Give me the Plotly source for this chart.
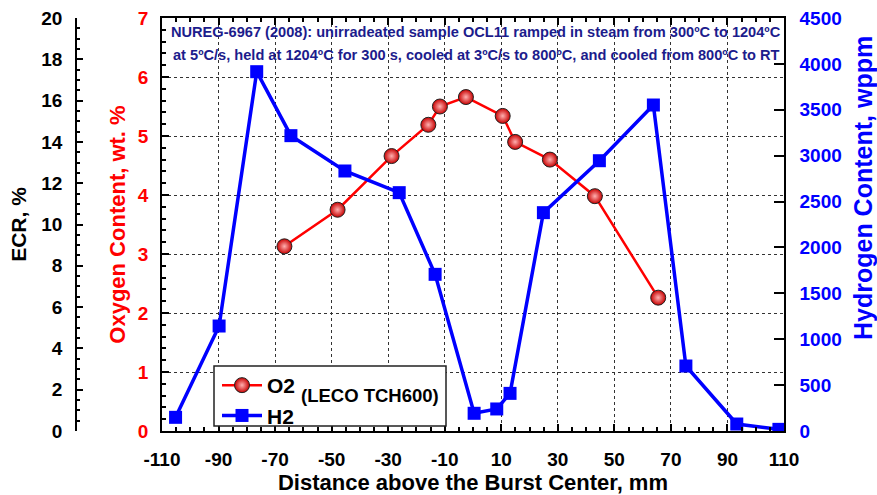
import plotly.graph_objects as go

# ---- data ----
o2_x = [-66.7, -47.9, -28.8, -15.8, -11.7, -2.5, 10.5, 14.9, 27.2, 43.1, 65.5]
o2_y = [3.13, 3.75, 4.66, 5.19, 5.50, 5.66, 5.34, 4.90, 4.60, 3.98, 2.26]

h2_x = [-105.2, -89.8, -76.5, -64.4, -45.3, -26.1, -13.4, 0.4, 8.4, 13.1, 24.9, 44.7, 63.8, 75.3, 93.3, 108.2]
h2_y = [149, 1144, 3915, 3218, 2833, 2597, 1707, 193, 240, 410, 2379, 2945, 3552, 708, 76, 18]

x_ticks = [-110, -90, -70, -50, -30, -10, 10, 30, 50, 70, 90, 110]
title_line1 = "NUREG-6967 (2008): unirradeated sample OCL11 ramped in steam from 300ºC to 1204ºC"
title_line2 = "at 5ºC/s, held at 1204ºC for 300 s, cooled at 3ºC/s to 800ºC, and cooled from 800ºC to RT"

W, H = 877, 495
L, R, T, B = 162, 784, 18, 431
FONT = "Arial, Liberation Sans, sans-serif"
RED = "#ff0000"
BLUE = "#0000ff"
NAVY = "#1c1c8c"


def px(xp):
    return xp / W


def py(yp):
    return (B - yp) / (B - T)


fig = go.Figure()

fig.add_trace(go.Scatter(
    x=o2_x, y=o2_y, name="O2", mode="lines+markers",
    line=dict(color=RED, width=2.5),
    marker=dict(symbol="circle", size=15, color="#c80000",
                gradient=dict(type="radial", color="#ffb0b0"),
                line=dict(color="#222222", width=1)),
    yaxis="y"))

fig.add_trace(go.Scatter(
    x=h2_x, y=h2_y, name="H2", mode="lines+markers",
    line=dict(color=BLUE, width=3.5),
    marker=dict(symbol="square", size=13, color=BLUE),
    yaxis="y2"))

# empty trace so the ECR axis is drawn
fig.add_trace(go.Scatter(x=[None], y=[None], yaxis="y3", showlegend=False))

tick_font_black = dict(family=FONT, size=19, color="black", weight="bold")

fig.update_layout(
    width=W, height=H,
    margin=dict(l=0, r=0, t=T, b=H - B, autoexpand=False),
    plot_bgcolor="white", paper_bgcolor="white",
    font=dict(family=FONT),
    showlegend=True,
    xaxis=dict(
        domain=[px(L), px(R)], range=[-110, 110],
        tickmode="array", tickvals=x_ticks, ticktext=[str(v) for v in x_ticks],
        ticks="inside", ticklen=7, tickwidth=1.5, tickcolor="black",
        minor=dict(dtick=5, tick0=-110, ticks="inside", ticklen=4, tickcolor="black", showgrid=False),
        showline=True, linecolor="black", linewidth=1.5, mirror="ticks",
        showgrid=True, gridcolor="#333333", gridwidth=1, griddash="3px,3px",
        zeroline=False,
        tickfont=tick_font_black, ticklabelstandoff=10,
        title=dict(text="Distance above the Burst Center, mm", standoff=6,
                   font=dict(family=FONT, size=22, color="black", weight="bold")),
    ),
    yaxis=dict(
        domain=[0, 1], range=[0, 7], dtick=1, tick0=0,
        ticks="inside", ticklen=7, tickwidth=1.5, tickcolor="black",
        minor=dict(dtick=0.2, ticks="inside", ticklen=4, tickcolor="black", showgrid=False),
        showline=True, linecolor="black", linewidth=1.5, mirror=True,
        showgrid=True, gridcolor="#333333", gridwidth=1, griddash="3px,3px",
        zeroline=False,
        tickfont=dict(family=FONT, size=19, color=RED, weight="bold"), ticklabelstandoff=8,
        title=dict(text="Oxygen Content, wt. %", standoff=6,
                   font=dict(family=FONT, size=22, color=RED, weight="bold")),
    ),
    yaxis2=dict(
        overlaying="y", side="right", anchor="x", range=[0, 4500], dtick=500, tick0=0,
        ticks="inside", ticklen=10, tickwidth=1.5, tickcolor="black",
        showline=True, linecolor="black", linewidth=1.5,
        showgrid=False, zeroline=False,
        tickfont=dict(family=FONT, size=19, color=BLUE, weight="bold"), ticklabelstandoff=10,
    ),
    yaxis3=dict(
        overlaying="y", side="left", anchor="free", position=px(76),
        range=[0, 20], dtick=2, tick0=0,
        ticks="inside", ticklen=6, tickwidth=1.5, tickcolor="black",
        minor=dict(dtick=0.5, ticks="inside", ticklen=3, tickcolor="black", showgrid=False),
        showline=True, linecolor="black", linewidth=1.5,
        showgrid=False, zeroline=False,
        tickfont=tick_font_black, ticklabelstandoff=9,
        title=dict(text="ECR, %", standoff=8,
                   font=dict(family=FONT, size=21, color="black", weight="bold")),
    ),
    legend=dict(
        x=px(217), y=py(365), xanchor="left", yanchor="top",
        bgcolor="rgba(0,0,0,0)", borderwidth=0,
        font=dict(family=FONT, size=21, color="black", weight="bold"),
        itemwidth=40, tracegroupgap=0,
    ),
    shapes=[dict(type="rect", xref="paper", yref="paper",
                 x0=px(214), x1=px(446), y0=py(426), y1=py(366),
                 fillcolor="white", line=dict(color="#222222", width=1.5), layer="above")],
    annotations=[
        dict(text=title_line1, xref="paper", yref="paper", x=px(169), y=py(32),
             xanchor="left", yanchor="middle", showarrow=False,
             font=dict(family=FONT, size=14.6, color=NAVY, weight="bold")),
        dict(text=title_line2, xref="paper", yref="paper", x=px(171), y=py(55),
             xanchor="left", yanchor="middle", showarrow=False,
             font=dict(family=FONT, size=14.6, color=NAVY, weight="bold")),
        dict(text="(LECO TCH600)", xref="paper", yref="paper", x=px(370), y=py(395),
             xanchor="center", yanchor="middle", showarrow=False,
             font=dict(family=FONT, size=18.5, color="black", weight="bold")),
        dict(text="Hydrogen Content, wppm", xref="paper", yref="paper", x=px(863), y=py(188),
             xanchor="center", yanchor="middle", showarrow=False, textangle=-90,
             font=dict(family=FONT, size=25, color=BLUE, weight="bold")),
    ],
)

fig.write_html("out.html")
